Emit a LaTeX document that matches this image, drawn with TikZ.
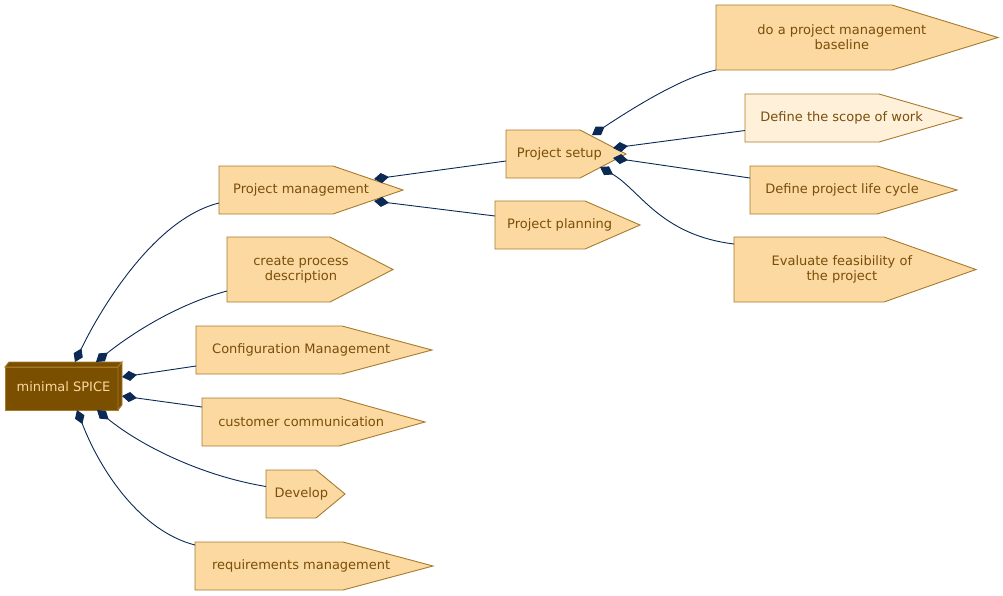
\documentclass[tikz,border=0pt]{standalone}
\usepackage{fontspec}
\setmainfont{DejaVu Sans}
\usetikzlibrary{arrows.meta}

\definecolor{boxfill}{RGB}{251,217,160}
\definecolor{boxlight}{RGB}{255,240,217}
\definecolor{boxdraw}{RGB}{168,122,44}
\definecolor{boxtext}{RGB}{122,78,10}
\definecolor{rootfill}{RGB}{123,79,0}
\definecolor{rootdraw}{RGB}{168,122,44}
\definecolor{roottext}{RGB}{250,216,160}
\definecolor{linkc}{RGB}{11,41,85}

\tikzset{
    boxline/.style={draw=boxdraw, line width=0.9pt},
    boxarea/.style={inner sep=0pt, outer sep=0pt},
    boxlabel/.style={text=boxtext, align=center, inner sep=0pt, font=\fontsize{13}{15}\selectfont},
    rootbox/.style={draw=rootdraw, fill=rootfill, line width=0.9pt, inner sep=0pt, outer sep=0pt, text=roottext, font=\fontsize{13}{15}\selectfont},
    link/.style={draw=linkc, line width=0.9pt, {Diamond[length=15pt,width=10pt]}-}
}

\begin{document}
\begin{tikzpicture}[x=1pt, y=-1pt]
    \useasboundingbox (0,0) rectangle (1003,595);

    % Root process (3d box)
    \node[rootbox, minimum width=113, minimum height=43] (root) at (61.5,388.5) {\raisebox{4pt}{\hspace*{4pt}minimal SPICE}};
    \draw[rootbox] (root.north west) -- ++(4,-5) -- ++(113,0) -- (root.north east) -- cycle;
    \draw[rootbox] (root.north east) -- ++(4,-5) -- ++(0,43) -- (root.south east) -- cycle;

    % Sub-processes: name/left/top/rect end/tip/bottom/text/fill
    \foreach \nm/\xl/\yt/\xr/\xp/\yb/\txt/\fc in {
        pm/219/166/333/403/214/Project management/boxfill,
        cpd/227/237/330/393/302/create process\\description/boxfill,
        cm/196/326/342/432/374/Configuration Management/boxfill,
        cc/202/398/339/425/446/customer communication/boxfill,
        dev/266/470/316/345/518/Develop/boxfill,
        rm/195/542/343/433/590/requirements management/boxfill,
        ps/506/130/580/626/178/Project setup/boxfill,
        pp/495/201/585/640/249/Project planning/boxfill,
        base/716/5/892/998/70/do a project management\\baseline/boxfill,
        scope/745/94/879/962/142/Define the scope of work/boxlight,
        life/750/166/877/957/214/Define project life cycle/boxfill,
        feas/734/237/884/976/302/Evaluate feasibility of\\the project/boxfill} {
        \draw[boxline, fill=\fc] (\xl,\yt) -- (\xr,\yt) -- (\xp,{(\yt+\yb)/2}) -- (\xr,\yb) -- (\xl,\yb) -- cycle;
        \node[boxarea, minimum width={\xp-\xl}, minimum height={\yb-\yt}] (\nm) at ({(\xl+\xp)/2},{(\yt+\yb)/2}) {};
        \node[boxlabel] (\nm-txt) at ({(\xl+\xp)/2-(\xp-\xr)/7},{(\yt+\yb)/2}) {\txt};
    }

    % Links from minimal SPICE
    \draw[link] ([shift={(13.5,-5)}]root.north) .. controls +(20,-42) and +(-69,17) .. ([shift={(0,13)}]pm.west);
    \draw[link] ([shift={(34.5,-5)}]root.north) .. controls +(34,-27) and +(-52,14) .. ([shift={(0,21.5)}]cpd.west);
    \draw[link] ([shift={(4,-11.5)}]root.east) -- ([shift={(0,16)}]cm.west);
    \draw[link] ([shift={(4,7.5)}]root.east) -- ([shift={(0,-15)}]cc.west);
    \draw[link] ([shift={(35.5,0)}]root.south) .. controls +(43,35) and +(-66,-11) .. ([shift={(0,-7.5)}]dev.west);
    \draw[link] ([shift={(15.5,0)}]root.south) .. controls +(23,60) and +(-55,-14) .. ([shift={(0,-21)}]rm.west);

    % Links from Project management
    \draw[link] ([shift={(-29,-11)}]pm.east) -- ([shift={(0,7)}]ps.west);
    \draw[link] ([shift={(-29,11)}]pm.east) -- ([shift={(0,-9)}]pp.west);

    % Links from Project setup
    \draw[link] ([shift={(-34,-19)}]ps.east) .. controls +(38,-25) and +(-36,8) .. (base.south west);
    \draw[link] ([shift={(-13,-6)}]ps.east) -- ([shift={(0,12.5)}]scope.west);
    \draw[link] ([shift={(-13,4)}]ps.east) -- ([shift={(0,-12)}]life.west);
    \draw[link] ([shift={(-26,13)}]ps.east) .. controls +(40,23) and +(-74,-9) .. ([shift={(0,-25.5)}]feas.west);
\end{tikzpicture}
\end{document}
